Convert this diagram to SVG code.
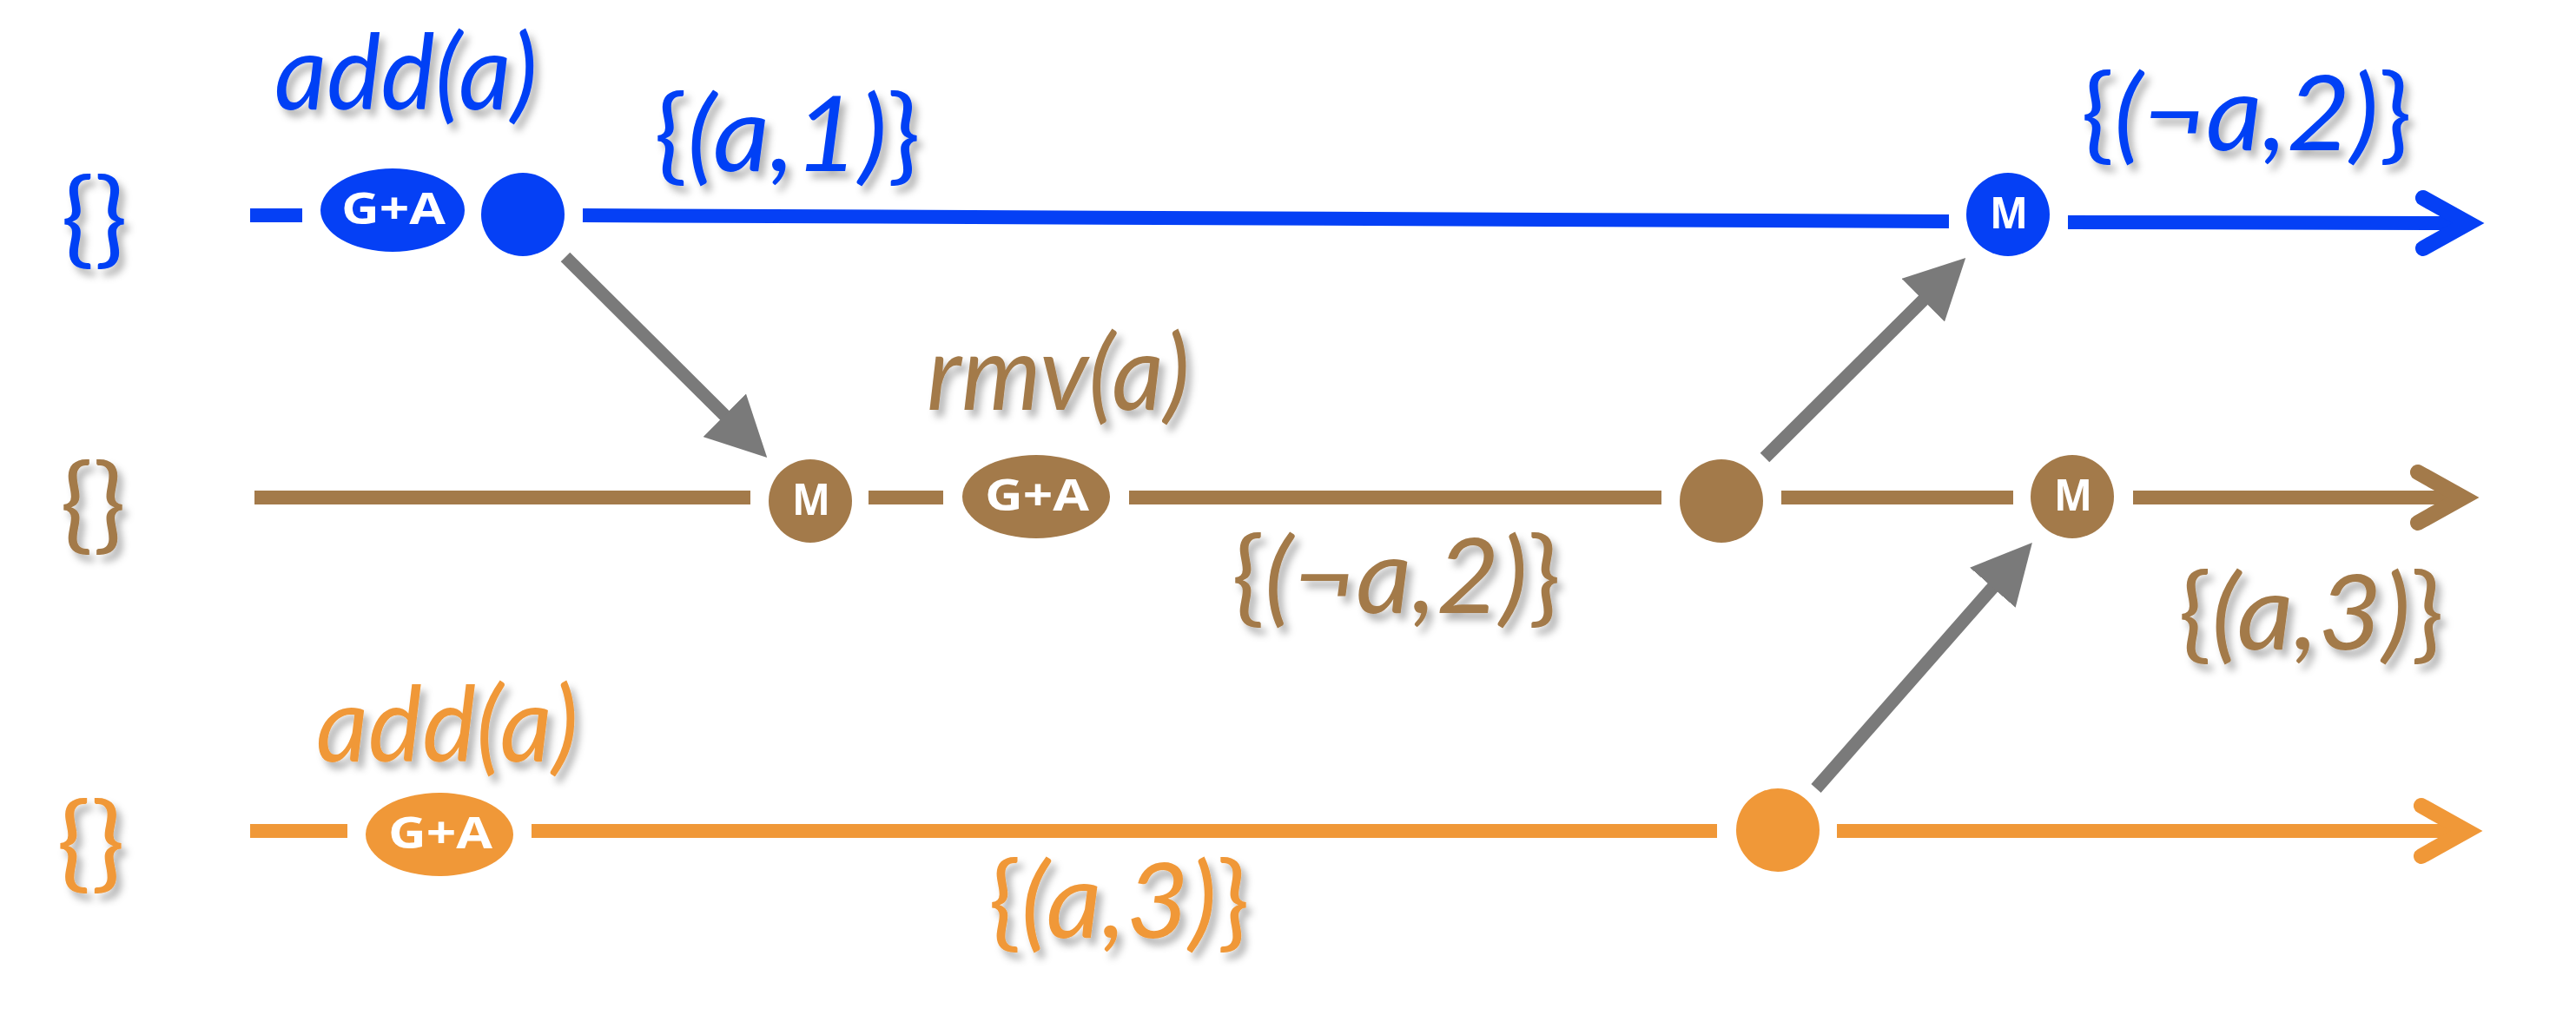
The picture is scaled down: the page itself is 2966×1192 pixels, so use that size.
<svg xmlns="http://www.w3.org/2000/svg" width="2966" height="1192" viewBox="0 0 2966 1192">
<defs>
<filter id="sh" x="-10%" y="-10%" width="130%" height="140%">
<feDropShadow dx="6" dy="8" stdDeviation="4" flood-color="#000" flood-opacity="0.3"/>
</filter>
<marker id="ah" viewBox="0 -35 69 70" refX="1" refY="0" markerWidth="69" markerHeight="70" markerUnits="userSpaceOnUse" orient="auto">
<path d="M0,-35 L69,0 L0,35 Z" fill="#7a7a7a"/>
</marker>
<path id="chev" d="M-52,-29 L0,0 L-52,29" fill="none" stroke-width="18" stroke-linecap="round" stroke-linejoin="miter"/>
</defs>
<style>
.lbl{font-family:Lato,"Open Sans","Liberation Sans",sans-serif;font-size:120px;font-style:italic;filter:url(#sh)}
.up{font-style:normal}
.nt{font-family:"Open Sans","Liberation Sans",sans-serif;font-weight:bold;fill:#fff;text-anchor:middle}
.ga{font-size:50px}
.m{font-size:50px}
.ln{fill:none;stroke-width:16;stroke-linecap:butt}
.blue{fill:#0540f5}.bluS{stroke:#0540f5}
.brown{fill:#a37a4a}.brnS{stroke:#a37a4a}
.orange{fill:#f09838}.orS{stroke:#f09838}
.gr{stroke:#7a7a7a;stroke-width:15;fill:none}
</style>

<g id="connectors">
<line class="ln bluS" x1="288" y1="248" x2="348" y2="248"/>
<line class="ln bluS" x1="671" y1="248" x2="2244" y2="255"/>
<line class="ln bluS" x1="2381" y1="256" x2="2846" y2="257"/>
<use href="#chev" x="2842" y="257" stroke="#0540f5"/>
<line class="ln brnS" x1="293" y1="573" x2="864" y2="573"/>
<line class="ln brnS" x1="1000" y1="573" x2="1086" y2="573"/>
<line class="ln brnS" x1="1300" y1="573" x2="1913" y2="573"/>
<line class="ln brnS" x1="2051" y1="573" x2="2318" y2="573"/>
<line class="ln brnS" x1="2456" y1="573" x2="2840" y2="573"/>
<use href="#chev" x="2836" y="573" stroke="#a37a4a"/>
<line class="ln orS" x1="288" y1="957" x2="400" y2="957"/>
<line class="ln orS" x1="612" y1="957" x2="1977" y2="957"/>
<line class="ln orS" x1="2115" y1="957" x2="2844" y2="957"/>
<use href="#chev" x="2840" y="957" stroke="#f09838"/>
<line class="gr" x1="651" y1="296" x2="835" y2="479" marker-end="url(#ah)"/>
<line class="gr" x1="2032" y1="527" x2="2215" y2="345" marker-end="url(#ah)"/>
<line class="gr" x1="2091" y1="908" x2="2295" y2="676" marker-end="url(#ah)"/>
</g>

<g id="blue-start"><text class="lbl blue up" x="70" y="293" textLength="77" lengthAdjust="spacingAndGlyphs">{}</text></g>
<g id="blue-ga"><ellipse class="blue" cx="452" cy="242" rx="83" ry="48"/><text class="nt ga" x="453" y="258" textLength="120" lengthAdjust="spacingAndGlyphs">G+A</text></g>
<g id="blue-dot"><circle class="blue" cx="602" cy="247" r="48"/></g>
<g id="blue-m"><circle class="blue" cx="2312" cy="247" r="48"/><text class="nt m" x="2313" y="263" textLength="44" lengthAdjust="spacingAndGlyphs">M</text></g>
<g id="blue-add"><text class="lbl blue" x="316" y="126" textLength="303" lengthAdjust="spacingAndGlyphs">add(a)</text></g>
<g id="blue-s1"><text class="lbl blue" x="753" y="197" textLength="307" lengthAdjust="spacingAndGlyphs"><tspan class="up">{</tspan>(a,1)<tspan class="up">}</tspan></text></g>
<g id="blue-s2"><text class="lbl blue" x="2396" y="173" textLength="381" lengthAdjust="spacingAndGlyphs"><tspan class="up">{</tspan>(¬a,2)<tspan class="up">}</tspan></text></g>

<g id="brown-start"><text class="lbl brown up" x="69" y="622" textLength="76" lengthAdjust="spacingAndGlyphs">{}</text></g>
<g id="brown-m1"><circle class="brown" cx="933" cy="577" r="48"/><text class="nt m" x="934" y="593" textLength="44" lengthAdjust="spacingAndGlyphs">M</text></g>
<g id="brown-ga"><ellipse class="brown" cx="1193" cy="572" rx="85" ry="48"/><text class="nt ga" x="1194" y="588" textLength="120" lengthAdjust="spacingAndGlyphs">G+A</text></g>
<g id="brown-dot"><circle class="brown" cx="1982" cy="577" r="48"/></g>
<g id="brown-m2"><circle class="brown" cx="2386" cy="572" r="48"/><text class="nt m" x="2387" y="588" textLength="44" lengthAdjust="spacingAndGlyphs">M</text></g>
<g id="brown-rmv"><text class="lbl brown" x="1067" y="472" textLength="303" lengthAdjust="spacingAndGlyphs">rmv(a)</text></g>
<g id="brown-s1"><text class="lbl brown" x="1418" y="706" textLength="379" lengthAdjust="spacingAndGlyphs"><tspan class="up">{</tspan>(¬a,2)<tspan class="up">}</tspan></text></g>
<g id="brown-s2"><text class="lbl brown" x="2508" y="748" textLength="306" lengthAdjust="spacingAndGlyphs"><tspan class="up">{</tspan>(a,3)<tspan class="up">}</tspan></text></g>

<g id="orange-start"><text class="lbl orange up" x="65" y="1012" textLength="79" lengthAdjust="spacingAndGlyphs">{}</text></g>
<g id="orange-ga"><ellipse class="orange" cx="506" cy="961" rx="85" ry="48"/><text class="nt ga" x="507" y="977" textLength="120" lengthAdjust="spacingAndGlyphs">G+A</text></g>
<g id="orange-dot"><circle class="orange" cx="2047" cy="956" r="48"/></g>
<g id="orange-add"><text class="lbl orange" x="364" y="877" textLength="302" lengthAdjust="spacingAndGlyphs">add(a)</text></g>
<g id="orange-s1"><text class="lbl orange" x="1138" y="1080" textLength="301" lengthAdjust="spacingAndGlyphs"><tspan class="up">{</tspan>(a,3)<tspan class="up">}</tspan></text></g>
</svg>
